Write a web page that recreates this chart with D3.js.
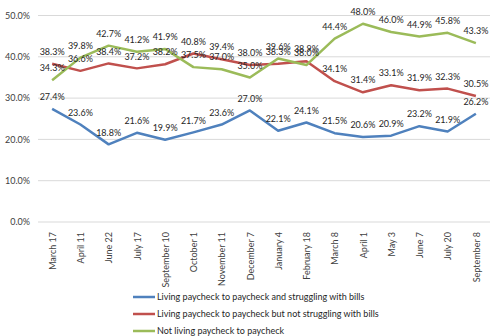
<!DOCTYPE html>
<html><head><meta charset="utf-8">
<script src="https://cdn.jsdelivr.net/npm/d3@7"></script>
<style>body{margin:0;background:#fff;}svg{display:block;font-family:Lato,"Open Sans",sans-serif;}</style>
</head><body>
<svg id="c" width="500" height="336"></svg>
<script>
const categories = ["March 17","April 11","June 22","July 17","September 10","October 1","November 11","December 7","January 4","February 18","March 8","April 1","May 3","June 7","July 20","September 8"];
const struggling = [27.4,23.6,18.8,21.6,19.9,21.7,23.6,27.0,22.1,24.1,21.5,20.6,20.9,23.2,21.9,26.2];
const notStruggling = [38.3,36.6,38.4,37.2,38.2,40.8,39.4,38.0,38.3,38.9,34.1,31.4,33.1,31.9,32.3,30.5];
const notLiving = [34.3,39.8,42.7,41.2,41.9,37.5,37.0,35.0,39.6,38.0,44.4,48.0,46.0,44.9,45.8,43.3];
const seriesNames = ["Living paycheck to paycheck and struggling with bills","Living paycheck to paycheck but not struggling with bills","Not living paycheck to paycheck"];
const yTicks = [0,10,20,30,40,50];

const series = [
  {name: seriesNames[0], values: struggling, color: "#4f81bd"},
  {name: seriesNames[1], values: notStruggling, color: "#c0504d"},
  {name: seriesNames[2], values: notLiving, color: "#9bbb59"}
];

const svg = d3.select("#c");
const x = d3.scalePoint().domain(categories).range([38, 490]).padding(0.5);
const y = d3.scaleLinear().domain([0, 50]).range([222, 15.5]);

// gridlines
svg.append("g").selectAll("line").data(yTicks).join("line")
  .attr("x1", 38).attr("x2", 490)
  .attr("y1", d => y(d)).attr("y2", d => y(d))
  .attr("stroke", "#d9d9d9").attr("stroke-width", 1);

// y axis labels
const yAxis = svg.append("g").attr("transform", "translate(34,0)")
  .call(d3.axisLeft(y).tickValues(yTicks).tickSize(0).tickPadding(4).tickFormat(d => d.toFixed(1) + "%"));
yAxis.select(".domain").remove();
yAxis.selectAll("text").attr("font-size", 9).attr("fill", "#404040").attr("font-family", "Lato, sans-serif");

// x axis labels
const xAxis = svg.append("g").attr("transform", "translate(0,222)")
  .call(d3.axisBottom(x).tickSize(0).tickPadding(0));
xAxis.select(".domain").remove();
xAxis.selectAll("text")
  .attr("font-size", 9).attr("fill", "#404040").attr("font-family", "Lato, sans-serif")
  .attr("transform", "rotate(-90)")
  .attr("text-anchor", "end")
  .attr("x", -10).attr("y", 0).attr("dy", "0.35em");

// lines
const line = d3.line().x((d, i) => x(categories[i])).y(d => y(d));
svg.append("g").selectAll("path").data(series).join("path")
  .attr("d", s => line(s.values))
  .attr("fill", "none").attr("stroke", s => s.color).attr("stroke-width", 2.5)
  .attr("stroke-linejoin", "round");

// data labels
series.forEach(s => {
  svg.append("g").selectAll("text").data(s.values).join("text")
    .attr("x", (d, i) => x(categories[i]))
    .attr("y", d => y(d) - 12)
    .attr("dy", "0.35em")
    .attr("text-anchor", "middle")
    .attr("font-size", 9).attr("fill", "#262626")
    .text(d => d.toFixed(1) + "%");
});

// legend
const lg = svg.append("g");
series.forEach((s, i) => {
  const yy = 297 + i * 17;
  lg.append("line").attr("x1", 133).attr("x2", 155).attr("y1", yy).attr("y2", yy)
    .attr("stroke", s.color).attr("stroke-width", 2.5);
  lg.append("text").attr("x", 157).attr("y", yy).attr("dy", "0.35em")
    .attr("font-size", 9).attr("fill", "#262626").text(s.name);
});
</script>
</body></html>
